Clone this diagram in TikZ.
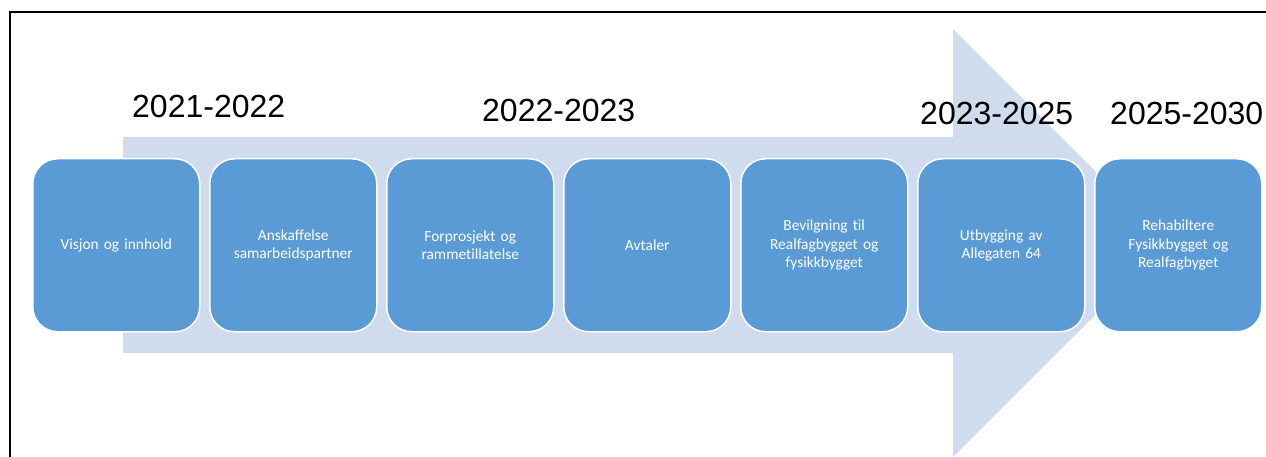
\documentclass[tikz,border=0pt]{standalone}
\usepackage{fontspec}
\newfontfamily\boxfont[Ligatures=NoCommon]{Carlito}
\newfontfamily\yearfont{Liberation Sans}
\definecolor{arrowfill}{RGB}{208,220,238}
\definecolor{boxfill}{RGB}{91,155,213}
\tikzset{
  stage/.style={draw=white, line width=1.5pt, fill=boxfill, rounded corners=25pt,
    minimum width=167pt, minimum height=173pt, inner sep=0pt, anchor=north west,
    text=white, align=center, text width=150pt,
    font=\boxfont\fontsize{15.4}{18.3}\selectfont},
  year/.style={anchor=base west, inner sep=0pt, font=\yearfont\fontsize{32}{36}\selectfont}
}
\begin{document}
\begin{tikzpicture}[x=1pt,y=-1pt]
\useasboundingbox (0,0) rectangle (1266,457);
\clip (0,0) rectangle (1266,457);
% frame
\draw[line width=2pt] (10,460) -- (10,12) -- (1270,12);
% big arrow
\fill[arrowfill] (123,137) -- (953,137) -- (953,29) -- (1167,243) -- (953,457) -- (953,353) -- (123,353) -- cycle;
% year labels
\node[year] (y1) at (132,118) {2021-2022};
\node[year] (y2) at (482,122) {2022-2023};
\node[year] (y3) at (920,125) {2023-2025};
\node[year] (y4) at (1110,125) {2025-2030};
% stages
\node[stage] (s1) at (32,158) {Visjon og innhold};
\node[stage] (s2) at (209,158) {Anskaffelse\\samarbeidspartner};
\node[stage] (s3) at (386,158) {Forprosjekt og\\rammetillatelse};
\node[stage] (s4) at (563,158) {Avtaler};
\node[stage] (s5) at (740,158) {Bevilgning til\\Realfagbygget og\\fysikkbygget};
\node[stage] (s6) at (917,158) {Utbygging av\\Allegaten 64};
\node[stage] (s7) at (1094,158) {Rehabiltere\\Fysikkbygget og\\Realfagbyget};
\end{tikzpicture}
\end{document}
